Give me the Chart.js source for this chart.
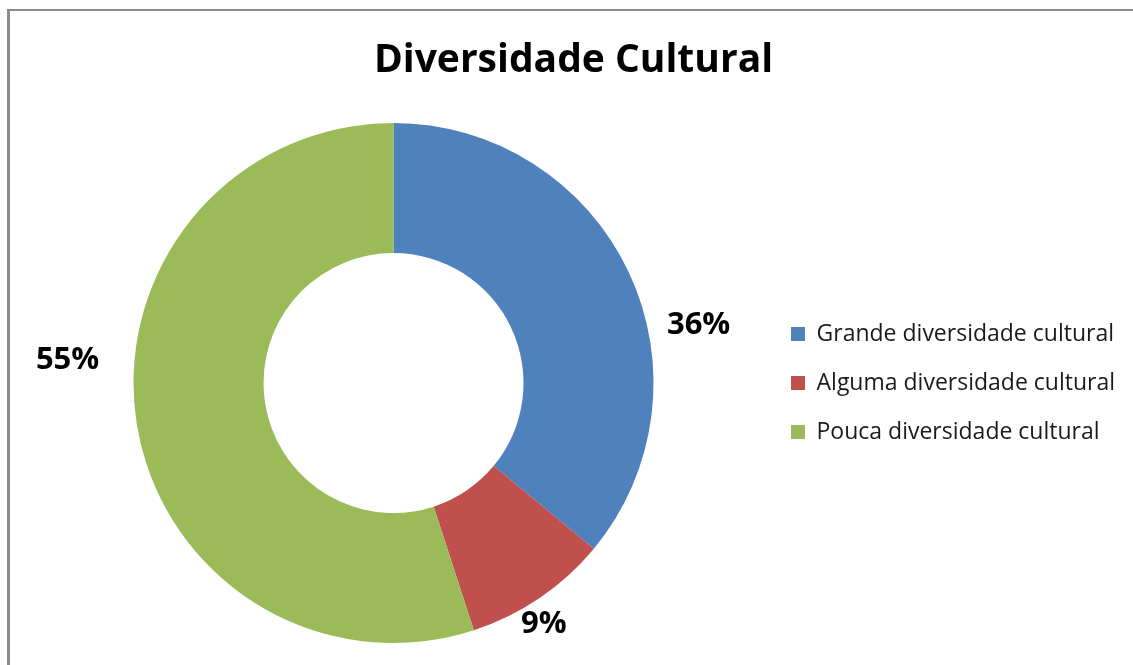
<!DOCTYPE html>
<html>
<head>
<meta charset="utf-8">
<script src="https://cdn.jsdelivr.net/npm/chart.js@4/dist/chart.umd.min.js"></script>
<style>
  html, body { margin: 0; padding: 0; background: #fff; }
  #wrap { position: relative; width: 1133px; height: 665px; overflow: hidden; }
  #frame { position: absolute; left: 7px; top: 9px; width: 1200px; height: 700px;
           border-left: 3px solid #8c8c8c; border-top: 2px solid #8c8c8c; }
  #myChart { position: absolute; left: 0; top: 0; }
</style>
</head>
<body>
<div id="wrap">
  <div id="frame"></div>
  <canvas id="myChart" width="1133" height="665"></canvas>
</div>
<script>
var categorias = ['Grande diversidade cultural', 'Alguma diversidade cultural', 'Pouca diversidade cultural'];
var percentagens = [36, 9, 55];
var cores = ['#4F81BD', '#C0504D', '#9BBB59'];

// onde cada rótulo fica em relação ao meio da fatia (graus, px fora do raio)
var ajusteRotulos = [
    {angulo: 14, dist: 51},
    {angulo: 2, dist: 22},
    {angulo: 13.6, dist: 67}
];

var rotulosPercent = {
    id: 'rotulosPercent',
    afterDatasetsDraw: function(chart) {
        var ctx = chart.ctx;
        var meta = chart.getDatasetMeta(0);
        ctx.save();
        ctx.font = 'bold 31px "Open Sans"';
        ctx.fillStyle = '#000';
        ctx.textAlign = 'center';
        ctx.textBaseline = 'middle';
        meta.data.forEach(function(arc, i) {
            var p = arc.getProps(['x', 'y', 'startAngle', 'endAngle', 'outerRadius'], true);
            var meio = (p.startAngle + p.endAngle) / 2 + ajusteRotulos[i].angulo * Math.PI / 180;
            var r = p.outerRadius + ajusteRotulos[i].dist;
            // +3: o "middle" da Open Sans fica um pouco alto
            ctx.fillText(percentagens[i] + '%', p.x + r * Math.cos(meio), p.y + r * Math.sin(meio) + 3);
        });
        ctx.restore();
    }
};

var ctx = document.getElementById('myChart').getContext('2d');

var myChart = new Chart(ctx, {
    type: 'doughnut',
    data: {
        labels: categorias,
        datasets: [{
            data: percentagens,
            backgroundColor: cores,
            hoverBackgroundColor: cores,
            borderWidth: 0
        }]
    },
    options: {
        responsive: false,
        animation: false,
        cutout: '50%',
        events: [],
        layout: {
            padding: {top: 0, left: 22, right: 8, bottom: 22}
        },
        plugins: {
            title: {
                display: true,
                text: 'Diversidade Cultural',
                color: '#000',
                font: {family: 'Open Sans', size: 39, weight: 'bold', lineHeight: 1.2},
                padding: {top: 37, bottom: 39.2}
            },
            legend: {
                position: 'right',
                fullSize: false,
                labels: {
                    color: '#1a1a1a',
                    font: {family: 'Open Sans', size: 23},
                    boxWidth: 14,
                    boxHeight: 14,
                    padding: 26
                }
            },
            tooltip: {enabled: false}
        }
    },
    plugins: [rotulosPercent]
});
</script>
</body>
</html>
